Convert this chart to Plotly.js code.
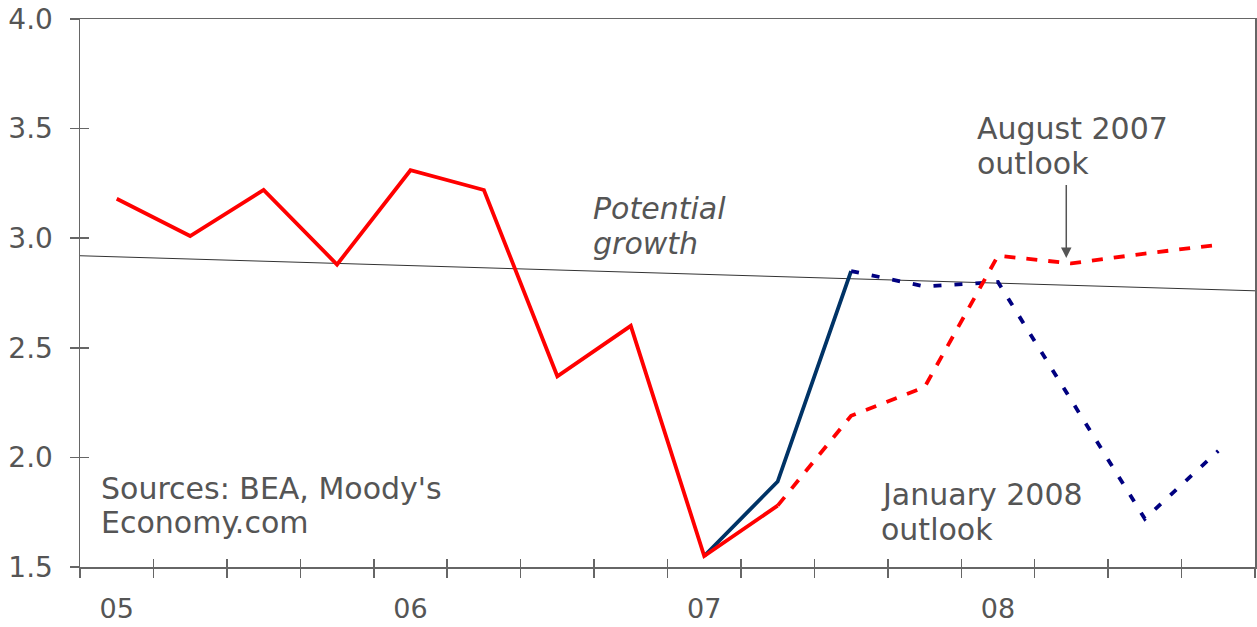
<!DOCTYPE html>
<html>
<head>
<meta charset="utf-8">
<script src="https://cdn.plot.ly/plotly-3.0.1.min.js"></script>
<style>html,body{margin:0;padding:0;background:#fff;}#chart{width:1257px;height:627px;}</style>
</head>
<body>
<div id="chart"></div>
<script>
// Quarters 2005Q1 .. 2008Q4 as indices 0..15
const quarters = [0,1,2,3,4,5,6,7,8,9,10,11,12,13,14,15];
const yearTickPos = [0,4,8,12];
const yearTickText = ['05','06','07','08'];
const quarterBoundaries = [-0.5,0.5,1.5,2.5,3.5,4.5,5.5,6.5,7.5,8.5,9.5,10.5,11.5,12.5,13.5,14.5,15.5];

// Actual GDP growth (red solid), 05Q1 .. 07Q2
const actualX = [0,1,2,3,4,5,6,7,8,9];
const actualY = [3.18,3.01,3.22,2.88,3.31,3.22,2.37,2.60,1.55,1.78];

// August 2007 outlook (red dashed), 07Q2 .. 08Q4
const augX = [9,10,11,12,13,14,15];
const augY = [1.78,2.19,2.32,2.92,2.885,2.93,2.97];

// Revised actual (blue solid), 07Q1 .. 07Q3
const revX = [8,9,10];
const revY = [1.55,1.89,2.85];

// January 2008 outlook (blue dashed), 07Q3 .. 08Q4
const janX = [10,11,12,13,14,15];
const janY = [2.85,2.78,2.80,2.26,1.72,2.03];

// Potential growth trend
const potX = [-0.5,15.5];
const potY = [2.92,2.76];

const textColor = '#555555';
const axisColor = '#666666';
const fontFam = 'DejaVu Sans';
const annSize = 30;

const traces = [
  {x: potX, y: potY, mode: 'lines', line: {color: '#333333', width: 1}, hoverinfo: 'skip'},
  {x: revX, y: revY, mode: 'lines', line: {color: '#003366', width: 3.8}},
  {x: janX, y: janY, mode: 'lines', line: {color: '#000080', width: 3.8, dash: '8px,13px'}},
  {x: augX, y: augY, mode: 'lines', line: {color: '#ff0000', width: 3.8, dash: '11px,11px'}},
  {x: actualX, y: actualY, mode: 'lines', line: {color: '#ff0000', width: 3.8}},
  // empty helper traces so the overlay tick axes are drawn
  {x: [], y: [], xaxis: 'x2', yaxis: 'y', mode: 'lines', hoverinfo: 'skip'},
  {x: [], y: [], xaxis: 'x3', yaxis: 'y2', mode: 'lines', hoverinfo: 'skip'}
];

function label(text, x, y, italic) {
  return {xref: 'paper', yref: 'paper', x: x, y: y, xanchor: 'left', yanchor: 'middle', align: 'left',
          text: italic ? '<i>' + text + '</i>' : text, showarrow: false,
          font: {size: annSize, color: textColor, family: fontFam}};
}

const layout = {
  width: 1257, height: 627,
  margin: {l: 80, r: 2, t: 19, b: 60},
  paper_bgcolor: '#ffffff', plot_bgcolor: 'rgba(0,0,0,0)',
  showlegend: false,
  font: {family: fontFam, color: textColor},
  xaxis: {
    range: [-0.5, 15.5], tickvals: yearTickPos, ticktext: yearTickText,
    ticks: '', showgrid: false, zeroline: false,
    showline: true, mirror: true, linecolor: axisColor, linewidth: 1.5,
    tickfont: {size: 27, color: textColor, family: fontFam},
    ticklabelstandoff: 17
  },
  xaxis2: {
    range: [-0.5, 15.5], overlaying: 'x', anchor: 'y', side: 'bottom',
    tickvals: quarterBoundaries, ticktext: quarterBoundaries.map(() => ''), showticklabels: false,
    ticks: 'outside', ticklen: 10, tickwidth: 1.5, tickcolor: axisColor,
    showgrid: false, zeroline: false, showline: false
  },
  xaxis3: {
    range: [-0.5, 15.5], overlaying: 'x', anchor: 'y2', side: 'bottom',
    tickvals: quarterBoundaries, ticktext: quarterBoundaries.map(() => ''), showticklabels: false,
    ticks: 'inside', ticklen: 8, tickwidth: 1.5, tickcolor: axisColor,
    showgrid: false, zeroline: false, showline: false
  },
  yaxis: {
    range: [1.5, 4.0], dtick: 0.5, tick0: 1.5, tickformat: '.1f',
    ticks: 'outside', ticklen: 9, tickwidth: 1.5, tickcolor: axisColor,
    showgrid: false, zeroline: false,
    showline: true, mirror: true, linecolor: axisColor, linewidth: 1.5,
    tickfont: {size: 28, color: textColor, family: fontFam},
    ticklabelstandoff: 11
  },
  yaxis2: {
    range: [1.5, 4.0], dtick: 0.5, tick0: 1.5, overlaying: 'y', anchor: 'x', side: 'left',
    showticklabels: false, ticks: 'inside', ticklen: 9, tickwidth: 1.5, tickcolor: axisColor,
    showgrid: false, zeroline: false, showline: false
  },
  annotations: [
    label('Sources: BEA, Moody\'s', 0.0162, 0.1441),
    label('Economy.com', 0.0162, 0.0803),
    label('Potential', 0.4345, 0.6542, true),
    label('growth', 0.4345, 0.5903, true),
    label('August 2007', 0.7619, 0.7993),
    label('outlook', 0.7619, 0.7372),
    label('January 2008', 0.6803, 0.1332),
    label('outlook', 0.6803, 0.0693),
    {xref: 'x', yref: 'y', x: 12.93, y: 2.91, axref: 'x', ayref: 'y', ax: 12.93, ay: 3.25,
     text: '', showarrow: true, arrowhead: 2, arrowsize: 1.4, arrowwidth: 1.5, arrowcolor: textColor}
  ]
};

Plotly.newPlot('chart', traces, layout, {displayModeBar: false, staticPlot: true});
</script>
</body>
</html>
